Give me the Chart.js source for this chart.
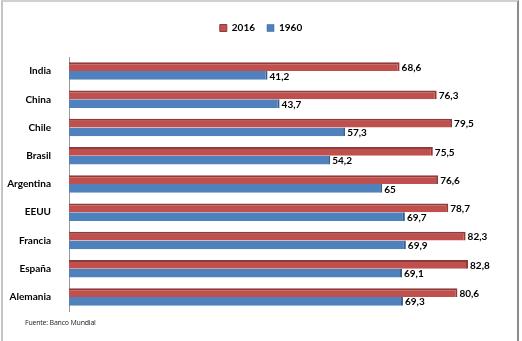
<!DOCTYPE html>
<html>
<head>
<meta charset="utf-8">
<script src="https://cdn.jsdelivr.net/npm/chart.js@4"></script>
<style>
  html,body{margin:0;padding:0;background:#fff;}
  #wrap{position:relative;width:522px;height:341px;overflow:hidden;}
  #frame{position:absolute;left:1px;top:0;width:518px;height:345px;border-left:2px solid #c4c4c4;border-top:2px solid #d0d0d0;border-right:2px solid #8c8c8c;box-sizing:border-box;pointer-events:none;}
  #src{position:absolute;left:25px;top:318px;font:7px "Open Sans",sans-serif;color:#222;letter-spacing:-0.2px;}
  canvas{position:absolute;left:0;top:0;}
</style>
</head>
<body>
<div id="wrap">
  <canvas id="c" width="522" height="341"></canvas>
  <div id="frame"></div>
  <div id="src">Fuente: Banco Mundial</div>
</div>
<script>
const categories = ["India","China","Chile","Brasil","Argentina","EEUU","Francia","España","Alemania"];
const seriesNames = ["2016","1960"];
const values2016 = [68.6,76.3,79.5,75.5,76.6,78.7,82.3,82.8,80.6];
const values1960 = [41.2,43.7,57.3,54.2,65,69.7,69.9,69.1,69.3];

const fmt = v => String(v).replace('.', ',');

const valueLabels = {
  id: 'valueLabels',
  afterDatasetsDraw(chart) {
    const ctx = chart.ctx;
    ctx.save();
    ctx.font = 'bold 10px Lato, sans-serif';
    ctx.fillStyle = '#000';
    ctx.textAlign = 'left';
    ctx.textBaseline = 'middle';
    chart.data.datasets.forEach((ds, i) => {
      chart.getDatasetMeta(i).data.forEach((bar, j) => {
        ctx.fillText(fmt(ds.data[j]), bar.x + 2, bar.y + 1);
      });
    });
    ctx.restore();
  }
};

const legendGap = {
  id: 'legendGap',
  beforeInit(chart) {
    const fit = chart.legend.fit;
    chart.legend.fit = function() {
      fit.call(this);
      this.height += 14;
    };
  }
};

new Chart(document.getElementById('c'), {
  type: 'bar',
  data: {
    labels: categories,
    datasets: [
      {label: seriesNames[0], data: values2016, backgroundColor: '#C0504D', borderColor: '#8E3B39',
       borderWidth: {top: 2, right: 2, bottom: 0, left: 0}, borderSkipped: false},
      {label: seriesNames[1], data: values1960, backgroundColor: '#4F81BD', borderColor: '#375F8E',
       borderWidth: {top: 0, right: 2, bottom: 0, left: 0}, borderSkipped: false}
    ]
  },
  options: {
    indexAxis: 'y',
    responsive: false,
    animation: false,
    layout: {padding: {top: 11, right: 0, bottom: 30, left: 0}},
    datasets: {bar: {categoryPercentage: 0.62, barPercentage: 1.0}},
    plugins: {
      legend: {
        position: 'top',
        labels: {boxWidth: 7, boxHeight: 7, padding: 12, color: '#000',
                 font: {family: 'Lato, sans-serif', size: 10, weight: 'bold'}}
      },
      tooltip: {enabled: false}
    },
    scales: {
      x: {display: false, min: 0, max: 94},
      y: {
        afterFit(scale) { scale.width = 69; },
        grid: {display: false},
        border: {display: true, color: '#999', width: 1},
        ticks: {color: '#000', padding: 10, font: {family: 'Lato, sans-serif', size: 10, weight: 'bold'}}
      }
    }
  },
  plugins: [valueLabels, legendGap]
});
</script>
</body>
</html>
